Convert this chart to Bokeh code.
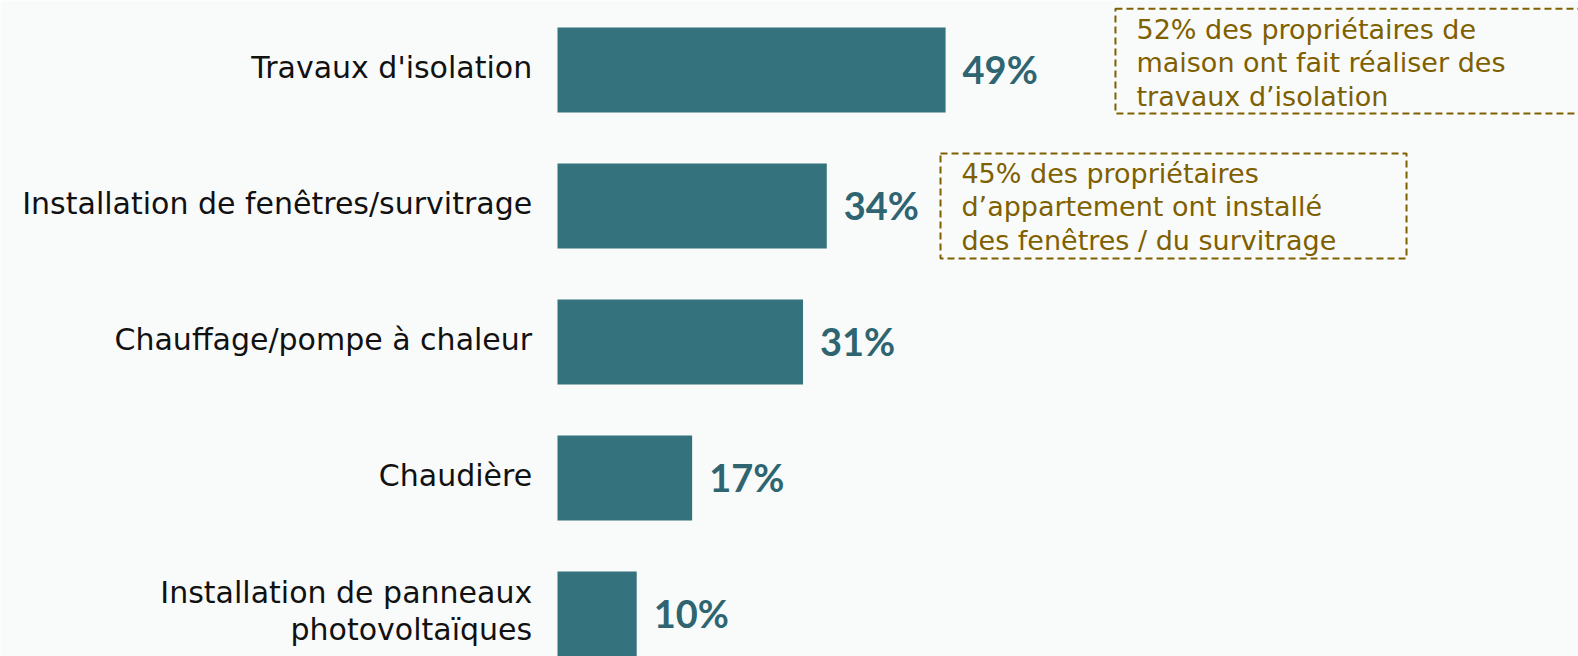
from bokeh.plotting import figure
from bokeh.models import Range1d, ColumnDataSource
from bokeh.core.properties import value
from bokeh.embed import file_html
from bokeh.resources import INLINE

categories = ["Travaux d'isolation", "Installation de fenêtres/survitrage",
              "Chauffage/pompe à chaleur", "Chaudière",
              "Installation de panneaux\nphotovoltaïques"]
values = [49, 34, 31, 17, 10]
value_labels = ["49%", "34%", "31%", "17%", "10%"]
note_texts = ["52% des propriétaires de\nmaison ont fait réaliser des\ntravaux d\u2019isolation",
              "45% des propriétaires\nd\u2019appartement ont installé\ndes fenêtres / du survitrage"]

W, H = 1578, 656
PX = 7.92          # pixels per percentage point
X0 = 557           # pixel of zero
Y0 = 69.5          # pixel centre of first bar
PITCH = 136.0

BG = "#f9fbfb"
BAR = "#34737e"
VAL = "#2e6570"
NOTE = "#7f6000"
FONT = "DejaVu Sans"

p = figure(width=W, height=H, output_backend="svg", toolbar_location=None,
           x_range=Range1d(-X0 / PX, (W - X0) / PX),
           y_range=Range1d((H - Y0) / PITCH, -Y0 / PITCH),
           min_border=0)
p.axis.visible = False
p.grid.visible = False
p.outline_line_color = None
p.background_fill_color = BG
p.border_fill_color = BG

ys = list(range(len(categories)))
src = ColumnDataSource(dict(y=ys, v=values, cat=categories, lab=value_labels))

p.hbar(y="y", right="v", left=0, height=0.625, source=src, color=BAR, line_color=None)

p.text(x=-3.2, y="y", text="cat", source=src, y_offset=-3, text_align="right",
       text_baseline="middle", text_font=value(FONT), text_font_size="30px",
       text_color="#111111", text_line_height=1.08)

p.text(x="v", y="y", text="lab", source=src, x_offset=17, y_offset=-1, text_align="left",
       text_baseline="middle", text_font=value("Lato"), text_font_style="bold",
       text_font_size="38px", text_color=VAL)

# annotation boxes (data units)
box_left = [70.45, 48.36]
box_right = [131.0, 107.2]
box_top = [-0.451, 0.614]
box_bottom = [0.32, 1.386]
p.quad(left=box_left, right=box_right, top=box_top, bottom=box_bottom,
       fill_color=None, line_color=NOTE, line_width=2, line_dash="7 4")

p.text(x=[73.1, 51.0], y=[-0.415, 0.646], text=note_texts, text_align="left",
       text_baseline="top", text_font=value(FONT), text_font_size="27px",
       text_color=NOTE, text_line_height=1.08)

open("out.html", "w").write(file_html(p, INLINE))
